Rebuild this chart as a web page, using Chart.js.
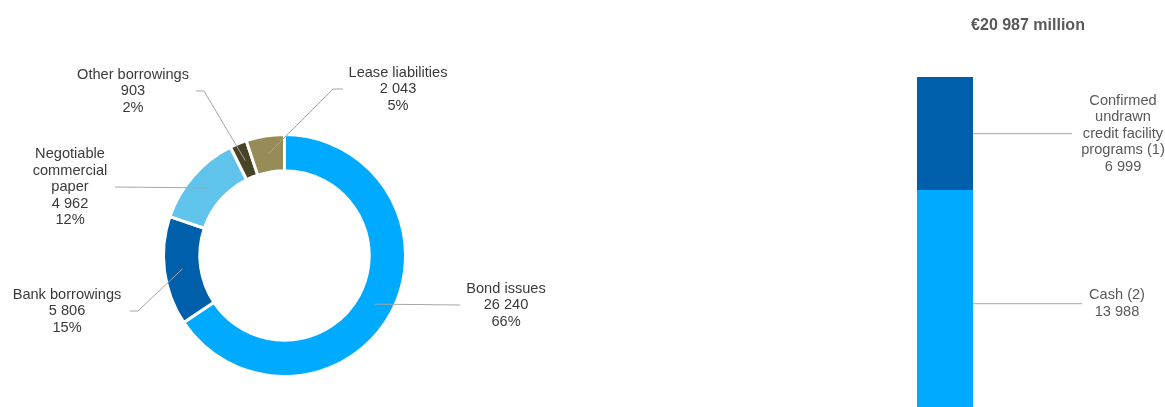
<!DOCTYPE html>
<html>
<head>
<meta charset="utf-8">
<script src="https://cdn.jsdelivr.net/npm/chart.js@4"></script>
<style>
  body { margin: 0; background: #fff; overflow: hidden; width: 1165px; height: 407px; position: relative; }
  canvas { position: absolute; top: 0; }
  #debt { left: 0; }
  #liquidity { left: 860px; }
</style>
</head>
<body>
<canvas id="debt" width="580" height="407"></canvas>
<canvas id="liquidity" width="305" height="417"></canvas>
<script>
// gross debt breakdown (€ million)
var debtLabels = [['Bond issues'], ['Bank borrowings'], ['Negotiable', 'commercial', 'paper'], ['Other borrowings'], ['Lease liabilities']];
var debtValues = [26240, 5806, 4962, 903, 2043];
var debtColors = ['#00aaff', '#005faa', '#5fc3ec', '#4a4427', '#978b57'];

// liquidity (€ million)
var liqCategories = ['Liquidity'];
var liqLabels = [['Cash (2)'], ['Confirmed', 'undrawn', 'credit facility', 'programs (1)']];
var liqValues = [13988, 6999];
var liqColors = ['#00aaff', '#005faa'];

var FONT = '14.6px "Liberation Sans", Arial, sans-serif';
var LINE_H = 16.5;

function fmt(n) {
	return String(n).replace(/\B(?=(\d{3})+(?!\d))/g, ' ');
}

function textBlock(ctx, lines, x, cy, color) {
	ctx.fillStyle = color;
	ctx.font = FONT;
	ctx.textAlign = 'center';
	ctx.textBaseline = 'middle';
	var top = cy - (lines.length - 1) * LINE_H / 2;
	for (var i = 0; i < lines.length; i++) {
		ctx.fillText(lines[i], x, top + i * LINE_H);
	}
}

// where each donut label sits: text centre x, line y, elbow x, line end x
var debtPlace = [
	{tx: 506, ly: 305, ex: 460, endX: 460},
	{tx: 67, ly: 311, ex: 138, endX: 130},
	{tx: 70, ly: 187, ex: 115, endX: 115},
	{tx: 133, ly: 91, ex: 204, endX: 196},
	{tx: 398, ly: 89, ex: 333, endX: 343}
];

var total = debtValues.reduce(function(a, b) { return a + b; }, 0);

var debtLabelPlugin = {
	id: 'debtLabels',
	afterDraw: function(chart) {
		var ctx = chart.ctx;
		var arcs = chart.getDatasetMeta(0).data;
		ctx.save();
		for (var i = 0; i < arcs.length; i++) {
			var p = arcs[i].tooltipPosition();
			var pl = debtPlace[i];
			ctx.strokeStyle = '#a6a6a6';
			ctx.lineWidth = 1;
			ctx.beginPath();
			ctx.moveTo(p.x, p.y);
			ctx.lineTo(pl.ex, pl.ly);
			ctx.lineTo(pl.endX, pl.ly);
			ctx.stroke();
			var pct = Math.round(debtValues[i] / total * 100) + '%';
			var lines = debtLabels[i].concat([fmt(debtValues[i]), pct]);
			textBlock(ctx, lines, pl.tx, pl.ly, '#3a3a3a');
		}
		ctx.restore();
	}
};

new Chart(document.getElementById('debt'), {
	type: 'doughnut',
	data: {
		labels: debtLabels.map(function(l) { return l.join(' '); }),
		datasets: [{
			data: debtValues,
			backgroundColor: debtColors,
			borderColor: '#ffffff',
			borderWidth: 3
		}]
	},
	options: {
		responsive: false,
		animation: false,
		cutout: '70%',
		layout: { padding: { left: 162, top: 133, right: 173, bottom: 29 } },
		plugins: { legend: { display: false }, tooltip: { enabled: false } }
	},
	plugins: [debtLabelPlugin]
});

// bar labels: text centre x, line end x
var liqPlace = [
	{tx: 257, endX: 222},
	{tx: 263, endX: 212}
];
var liqTotal = liqValues[0] + liqValues[1];

var liqLabelPlugin = {
	id: 'liqLabels',
	afterDraw: function(chart) {
		var ctx = chart.ctx;
		ctx.save();
		ctx.fillStyle = '#595959';
		ctx.font = 'bold 16px "Liberation Sans", Arial, sans-serif';
		ctx.textAlign = 'center';
		ctx.textBaseline = 'middle';
		ctx.fillText('€' + fmt(liqTotal) + ' million', 168, 26);
		for (var i = 0; i < chart.data.datasets.length; i++) {
			var bar = chart.getDatasetMeta(i).data[0];
			var props = bar.getProps(['x', 'y', 'base', 'width']);
			var cy = (props.y + props.base) / 2;
			var right = props.x + props.width / 2;
			ctx.strokeStyle = '#a6a6a6';
			ctx.lineWidth = 1;
			ctx.beginPath();
			ctx.moveTo(right, cy);
			ctx.lineTo(liqPlace[i].endX, cy);
			ctx.stroke();
			var lines = liqLabels[i].concat([fmt(liqValues[i])]);
			textBlock(ctx, lines, liqPlace[i].tx, cy, '#595959');
		}
		ctx.restore();
	}
};

new Chart(document.getElementById('liquidity'), {
	type: 'bar',
	data: {
		labels: liqCategories,
		datasets: [
			{ label: 'Cash (2)', data: [liqValues[0]], backgroundColor: liqColors[0] },
			{ label: 'Confirmed undrawn credit facility programs (1)', data: [liqValues[1]], backgroundColor: liqColors[1] }
		]
	},
	options: {
		responsive: false,
		animation: false,
		barPercentage: 1,
		categoryPercentage: 1,
		layout: { padding: { left: 57, right: 192, top: 77, bottom: 0 } },
		scales: {
			x: { display: false, stacked: true },
			y: { display: false, stacked: true, min: 0, max: liqTotal }
		},
		plugins: { legend: { display: false }, tooltip: { enabled: false } }
	},
	plugins: [liqLabelPlugin]
});
</script>
</body>
</html>
